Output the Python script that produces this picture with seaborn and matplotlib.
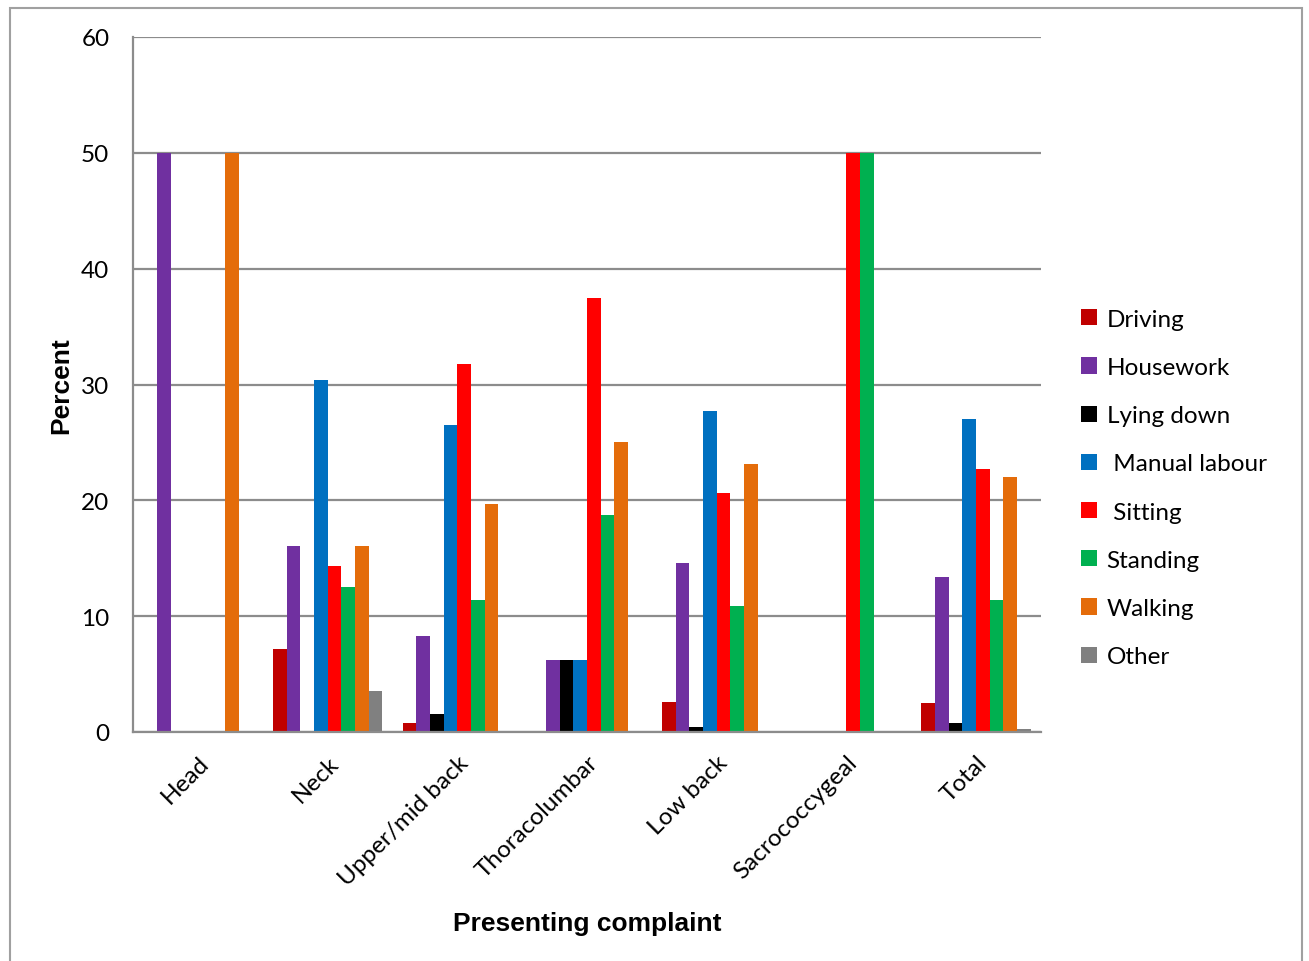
import numpy as np
import pandas as pd
import matplotlib
matplotlib.use("Agg")
import matplotlib.pyplot as plt
from matplotlib.patches import Rectangle, Patch
import seaborn as sns

# ---- data (percent) ----
complaints = ["Head", "Neck", "Upper/mid back", "Thoracolumbar",
              "Low back", "Sacrococcygeal", "Total"]
activities = ["Driving", "Housework", "Lying down", " Manual labour",
              " Sitting", "Standing", "Walking", "Other"]

driving = [0, 7.14, 0.76, 0, 2.56, 0, 2.5]
housework = [50, 16.07, 8.33, 6.25, 14.6, 0, 13.4]
lying_down = [0, 0, 1.52, 6.25, 0.4, 0, 0.75]
manual_labour = [0, 30.36, 26.5, 6.25, 27.7, 0, 27.0]
sitting = [0, 14.29, 31.8, 37.5, 20.6, 50, 22.7]
standing = [0, 12.5, 11.36, 18.75, 10.9, 50, 11.4]
walking = [50, 16.07, 19.7, 25, 23.1, 0, 22.0]
other = [0, 3.57, 0, 0, 0, 0, 0.3]

colors = ["#C00000", "#7030A0", "#000000", "#0070C0",
          "#FF0000", "#00B050", "#E46C0A", "#808080"]

series = [driving, housework, lying_down, manual_labour,
          sitting, standing, walking, other]
rows = []
for act, vals in zip(activities, series):
    for comp, v in zip(complaints, vals):
        rows.append({"complaint": comp, "activity": act, "percent": v})
df = pd.DataFrame(rows)

sns.set_style("white")
plt.rcParams["font.family"] = ["Lato", "DejaVu Sans"]
plt.rcParams["text.color"] = "black"
plt.rcParams["axes.labelcolor"] = "black"
plt.rcParams["xtick.labelcolor"] = "black"
plt.rcParams["ytick.labelcolor"] = "black"

fig = plt.figure(figsize=(13.09, 9.62), dpi=100)
ax = fig.add_axes([133 / 1309, 1 - 733 / 962, (1041 - 133) / 1309, (733 - 38) / 962])

sns.barplot(data=df, x="complaint", y="percent", hue="activity",
            order=complaints, hue_order=activities, palette=colors,
            width=0.843, linewidth=0, saturation=1, ax=ax, legend=False)

grey = "#8C8C8C"
ax.set_ylim(0, 60)
ax.set_xlim(-0.5, len(complaints) - 0.5)
ax.set_yticks(np.arange(0, 61, 10))
ax.yaxis.grid(True, color=grey, linewidth=1.6)
ax.set_axisbelow(True)
for s in ["top", "right"]:
    ax.spines[s].set_visible(False)
for s in ["left", "bottom"]:
    ax.spines[s].set_color(grey)
    ax.spines[s].set_linewidth(1.6)

ax.tick_params(axis="y", length=6, width=1.6, color=grey, labelsize=17.5, pad=11)
ax.set_xticks(np.arange(-0.5, len(complaints), 1.0), minor=True)
ax.tick_params(axis="x", which="minor", length=6, width=1.6, color=grey)
ax.tick_params(axis="x", which="major", length=0, labelsize=17.5, pad=14)
for lab in ax.get_xticklabels():
    lab.set_rotation(45)
    lab.set_ha("right")
    lab.set_rotation_mode("anchor")

ax.set_ylabel("Percent", fontsize=19, fontweight="bold",
              family="Liberation Sans", labelpad=6)
ax.set_xlabel("Presenting complaint", fontsize=19, fontweight="bold",
              family="Liberation Sans", labelpad=16)

handles = [Patch(facecolor=c, edgecolor="none") for c in colors]
ax.legend(handles, activities, loc="center left", bbox_to_anchor=(1.02, 0.351),
          frameon=False, fontsize=17.5, handlelength=0.65, handleheight=0.65,
          handletextpad=0.4, labelspacing=1.12)

# outer frame like the source figure
fig.patches.append(Rectangle((10 / 1309, -0.05), (1302 - 10) / 1309, 1.05 - 9 / 962,
                             transform=fig.transFigure, fill=False,
                             edgecolor="#A0A0A0", linewidth=1.5))

plt.savefig("out.png", dpi=100)
